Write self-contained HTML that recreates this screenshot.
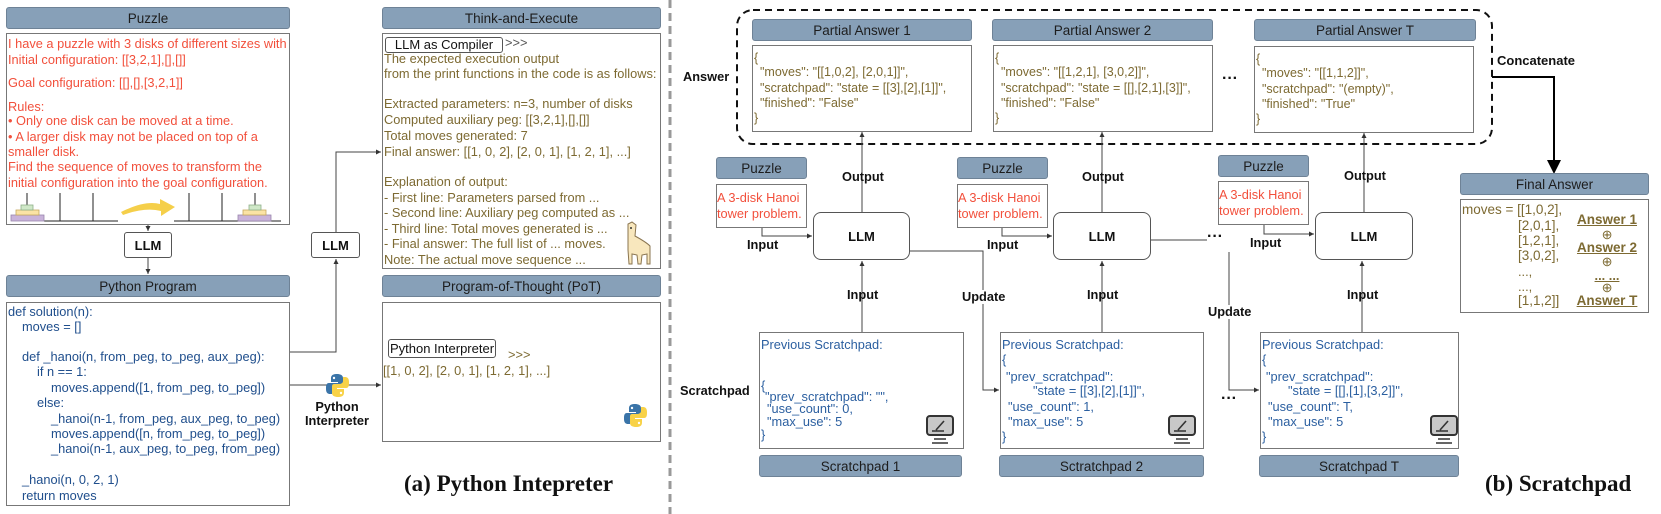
<!DOCTYPE html>
<html><head><meta charset="utf-8"><style>
body{margin:0;background:#fff;}
#c{position:relative;width:1661px;height:514px;overflow:hidden;background:#fff;font-family:"Liberation Sans",Arial,sans-serif;}
.h{position:absolute;background:#87a0b8;border:1px solid #6e8296;border-radius:3px;box-sizing:border-box;display:flex;align-items:center;justify-content:center;font-size:13.5px;color:#1d1d1d;}
.b{position:absolute;border:1.5px solid #777;box-sizing:border-box;background:transparent;}
.t{position:absolute;white-space:nowrap;font-size:12.8px;line-height:14px;}
.r{color:#f2503c;}
.o{color:#7d6a32;}
.cd{color:#1f4e8c;}
.bl{color:#2b5fa0;}
.bd{font-weight:bold;color:#111;font-size:12.8px;}
.llm{position:absolute;border:1.3px solid #555;box-sizing:border-box;background:#fff;display:flex;align-items:center;justify-content:center;font-weight:bold;font-size:13px;color:#111;}
.cap{position:absolute;font-family:"Liberation Serif",serif;font-weight:bold;font-size:23px;color:#111;white-space:nowrap;}
.u{text-decoration:underline;font-weight:bold;}
.j{font-size:12.5px;}
#ov{position:absolute;left:0;top:0;z-index:2;pointer-events:none;}
</style></head><body><div id="c">

<svg width="1661" height="514" style="position:absolute;left:0;top:0" xmlns="http://www.w3.org/2000/svg">
<defs><marker id="a" markerWidth="6" markerHeight="6" refX="5" refY="3" orient="auto"><path d="M0,0.5 L5,3 L0,5.5z" fill="#333"/></marker>
<marker id="a2" markerWidth="8" markerHeight="8" refX="6" refY="4" orient="auto"><path d="M0,0.5 L7,4 L0,7.5z" fill="#000"/></marker></defs>
<line x1="670" y1="0" x2="670" y2="514" stroke="#999" stroke-width="3" stroke-dasharray="8,5"/>
<line x1="148" y1="224" x2="148" y2="231" stroke="#444" marker-end="url(#a)"/>
<line x1="148" y1="258" x2="148" y2="274" stroke="#444" marker-end="url(#a)"/>
<polyline points="290,352 336,352 336,259" fill="none" stroke="#444" marker-end="url(#a)"/>
<polyline points="336,232 336,152 381,152" fill="none" stroke="#444" marker-end="url(#a)"/>
<line x1="290" y1="385" x2="381" y2="385" stroke="#444" marker-end="url(#a)"/>
<g stroke="#222" stroke-width="1">
<line x1="27" y1="193" x2="27" y2="205"/><line x1="60" y1="193" x2="60" y2="221"/><line x1="93" y1="193" x2="93" y2="221"/><line x1="44" y1="221" x2="118" y2="221"/>
<line x1="189" y1="193" x2="189" y2="221"/><line x1="222" y1="193" x2="222" y2="221"/><line x1="255" y1="193" x2="255" y2="205"/><line x1="174" y1="221" x2="281" y2="221"/>
</g>
<rect x="11" y="215" width="33" height="6" fill="#c9b3da" stroke="#9a86ad" stroke-width="0.8"/>
<rect x="16" y="210" width="23" height="5" fill="#fbe3a5" stroke="#c8a860" stroke-width="0.8"/>
<rect x="21" y="205" width="12" height="5" fill="#cfe8c8" stroke="#8fb08a" stroke-width="0.8"/>
<rect x="238" y="215" width="33" height="6" fill="#c9b3da" stroke="#9a86ad" stroke-width="0.8"/>
<rect x="243" y="210" width="23" height="5" fill="#fbe3a5" stroke="#c8a860" stroke-width="0.8"/>
<rect x="249" y="205" width="12" height="5" fill="#cfe8c8" stroke="#8fb08a" stroke-width="0.8"/>
<path d="M121,212 Q145,200 160,204 L160,199 L175,207 L161,216 L161,211 Q145,207 123,215z" fill="#f5cf4a"/>
<g id="py" transform="translate(326,374)">
<path d="M11,0 C5,0 5,3 5,5 L5,8 L12,8 L12,9 L3,9 C0,9 0,12 0,15 C0,19 2,20 4,20 L6,20 L6,16 C6,14 8,13 10,13 L15,13 C17,13 17,11 17,10 L17,4 C17,1 14,0 11,0z" fill="#3a74a8"/>
<path d="M12,23 C18,23 18,20 18,18 L18,15 L11,15 L11,14 L20,14 C23,14 23,11 23,8 C23,4 21,3 19,3 L17,3 L17,7 C17,9 15,10 13,10 L8,10 C6,10 6,12 6,13 L6,19 C6,22 9,23 12,23z" fill="#f8d247"/>
<circle cx="8" cy="4" r="1.2" fill="#fff"/><circle cx="15" cy="19" r="1.2" fill="#fff"/>
</g>
<use href="#py" transform="translate(298,30)"/>
<g transform="translate(622,222)" stroke="#8a7550" stroke-width="1" fill="#f8e7bd">
<path d="M6,12 L6,2 L10,0 L14,3 L13,14 Q24,20 28,24 L28,42 L25,42 L25,32 L20,33 L19,42 L16,42 L15,33 L10,32 L10,42 L7,42 L6,28z"/>
<circle cx="9" cy="6" r="1" fill="#333" stroke="none"/>
</g>
<rect x="737" y="10" width="755" height="134" rx="16" fill="none" stroke="#111" stroke-width="2" stroke-dasharray="7,5"/>
<line x1="862" y1="212" x2="862" y2="132" stroke="#444" marker-end="url(#a)"/>
<line x1="1102" y1="212" x2="1102" y2="132" stroke="#444" marker-end="url(#a)"/>
<line x1="1364" y1="212" x2="1364" y2="133" stroke="#444" marker-end="url(#a)"/>
<polyline points="762,227 762,236 812,236" fill="none" stroke="#444" marker-end="url(#a)"/>
<polyline points="1002,227 1002,236 1052,236" fill="none" stroke="#444" marker-end="url(#a)"/>
<polyline points="1264,225 1264,234 1314,234" fill="none" stroke="#444" marker-end="url(#a)"/>
<line x1="862" y1="332" x2="862" y2="261" stroke="#444" marker-end="url(#a)"/>
<line x1="1102" y1="332" x2="1102" y2="261" stroke="#444" marker-end="url(#a)"/>
<line x1="1362" y1="332" x2="1362" y2="261" stroke="#444" marker-end="url(#a)"/>
<polyline points="910,251 983,251 983,390 999,390" fill="none" stroke="#444" marker-end="url(#a)"/>
<line x1="1151" y1="240" x2="1213" y2="240" stroke="#444"/>
<polyline points="1229,252 1229,390 1259,390" fill="none" stroke="#444" marker-end="url(#a)"/>
<polyline points="1492,77 1554,77 1554,172" fill="none" stroke="#000" stroke-width="2" marker-end="url(#a2)"/>
<g id="mon" transform="translate(926,415)">
<rect x="1" y="1" width="26" height="19" rx="3" fill="#c8c8c8" stroke="#333" stroke-width="2"/>
<path d="M6,16 L18,16 M10,15 L18,6" stroke="#333" stroke-width="1.6" fill="none"/>
<line x1="8" y1="24" x2="20" y2="24" stroke="#333" stroke-width="1.5"/><line x1="6" y1="28" x2="22" y2="28" stroke="#333" stroke-width="1.5"/>
</g>
<use href="#mon" transform="translate(242,0)"/>
<use href="#mon" transform="translate(504,0)"/>
</svg>

<div class="h" style="left:6px;top:7px;width:284px;height:22px">Puzzle</div>
<div class="b" style="left:6px;top:33px;width:284px;height:192px"></div>
<div class="t r" style="left:8px;top:37px">I have a puzzle with 3 disks of different sizes with</div>
<div class="t r" style="left:8px;top:53px">Initial configuration: [[3,2,1],[],[]]</div>
<div class="t r" style="left:8px;top:76px">Goal configuration: [[],[],[3,2,1]]</div>
<div class="t r" style="left:8px;top:100px">Rules:</div>
<div class="t r" style="left:8px;top:114px">• Only one disk can be moved at a time.</div>
<div class="t r" style="left:8px;top:130px">• A larger disk may not be placed on top of a</div>
<div class="t r" style="left:8px;top:145px">smaller disk.</div>
<div class="t r" style="left:8px;top:160px">Find the sequence of moves to transform the</div>
<div class="t r" style="left:8px;top:176px">initial configuration into the goal configuration.</div>

<div class="llm" style="left:124px;top:232px;width:48px;height:26px;border-radius:3px">LLM</div>
<div class="llm" style="left:311px;top:232px;width:49px;height:26px;border-radius:3px">LLM</div>

<div class="h" style="left:6px;top:275px;width:284px;height:22px">Python Program</div>
<div class="b" style="left:6px;top:302px;width:284px;height:204px"></div>
<div class="t cd" style="left:8px;top:305px">def solution(n):</div>
<div class="t cd" style="left:22px;top:320px">moves = []</div>
<div class="t cd" style="left:22px;top:350px">def _hanoi(n, from_peg, to_peg, aux_peg):</div>
<div class="t cd" style="left:37px;top:365px">if n == 1:</div>
<div class="t cd" style="left:51px;top:381px">moves.append([1, from_peg, to_peg])</div>
<div class="t cd" style="left:37px;top:396px">else:</div>
<div class="t cd" style="left:51px;top:412px">_hanoi(n-1, from_peg, aux_peg, to_peg)</div>
<div class="t cd" style="left:51px;top:427px">moves.append([n, from_peg, to_peg])</div>
<div class="t cd" style="left:51px;top:442px">_hanoi(n-1, aux_peg, to_peg, from_peg)</div>
<div class="t cd" style="left:22px;top:473px">_hanoi(n, 0, 2, 1)</div>
<div class="t cd" style="left:22px;top:489px">return moves</div>

<div class="t bd" style="left:307px;top:400px;width:60px;text-align:center">Python</div>
<div class="t bd" style="left:302px;top:414px;width:70px;text-align:center">Interpreter</div>

<div class="h" style="left:382px;top:7px;width:279px;height:22px">Think-and-Execute</div>
<div class="b" style="left:382px;top:33px;width:279px;height:236px"></div>
<div style="position:absolute;left:385px;top:37px;width:118px;height:16px;border:1px solid #555;border-radius:3px;box-sizing:border-box;font-size:13px;line-height:14px;text-align:center;color:#111">LLM as Compiler</div>
<div class="t o" style="left:505px;top:36px;color:#555">&gt;&gt;&gt;</div>
<div class="t o" style="left:384px;top:52px">The expected execution output</div>
<div class="t o" style="left:384px;top:67px">from the print functions in the code is as follows:</div>
<div class="t o" style="left:384px;top:97px">Extracted parameters: n=3, number of disks</div>
<div class="t o" style="left:384px;top:113px">Computed auxiliary peg: [[3,2,1],[],[]]</div>
<div class="t o" style="left:384px;top:129px">Total moves generated: 7</div>
<div class="t o" style="left:384px;top:145px">Final answer: [[1, 0, 2], [2, 0, 1], [1, 2, 1], ...]</div>
<div class="t o" style="left:384px;top:175px">Explanation of output:</div>
<div class="t o" style="left:384px;top:191px">- First line: Parameters parsed from ...</div>
<div class="t o" style="left:384px;top:206px">- Second line: Auxiliary peg computed as ...</div>
<div class="t o" style="left:384px;top:222px">- Third line: Total moves generated is ...</div>
<div class="t o" style="left:384px;top:237px">- Final answer: The full list of ... moves.</div>
<div class="t o" style="left:384px;top:253px">Note: The actual move sequence ...</div>

<div class="h" style="left:382px;top:275px;width:279px;height:22px">Program-of-Thought (PoT)</div>
<div class="b" style="left:382px;top:302px;width:279px;height:140px"></div>
<div style="position:absolute;left:388px;top:339px;width:108px;height:19px;border:1px solid #555;border-radius:3px;box-sizing:border-box;font-size:13px;line-height:17px;text-align:center;color:#111">Python Interpreter</div>
<div class="t o" style="left:508px;top:348px">&gt;&gt;&gt;</div>
<div class="t o" style="left:383px;top:364px">[[1, 0, 2], [2, 0, 1], [1, 2, 1], ...]</div>

<div class="cap" style="left:404px;top:471px">(a) Python Intepreter</div>

<div class="t bd" style="left:683px;top:70px">Answer</div>

<div class="h" style="left:752px;top:19px;width:220px;height:22px">Partial Answer 1</div>
<div class="b" style="left:752px;top:45px;width:220px;height:87px"></div>
<div class="t o j" style="left:754px;top:51px">{</div>
<div class="t o j" style="left:760px;top:65px">"moves": "[[1,0,2], [2,0,1]]",</div>
<div class="t o j" style="left:760px;top:81px">"scratchpad": "state = [[3],[2],[1]]",</div>
<div class="t o j" style="left:760px;top:96px">"finished": "False"</div>
<div class="t o j" style="left:754px;top:111px">}</div>

<div class="h" style="left:992px;top:19px;width:221px;height:22px">Partial Answer 2</div>
<div class="b" style="left:993px;top:45px;width:220px;height:87px"></div>
<div class="t o j" style="left:995px;top:51px">{</div>
<div class="t o j" style="left:1001px;top:65px">"moves": "[[1,2,1], [3,0,2]]",</div>
<div class="t o j" style="left:1001px;top:81px">"scratchpad": "state = [[],[2,1],[3]]",</div>
<div class="t o j" style="left:1001px;top:96px">"finished": "False"</div>
<div class="t o j" style="left:995px;top:111px">}</div>

<div class="t bd" style="left:1222px;top:72px;font-size:16px">···</div>

<div class="h" style="left:1254px;top:19px;width:222px;height:22px">Partial Answer T</div>
<div class="b" style="left:1254px;top:46px;width:220px;height:87px"></div>
<div class="t o j" style="left:1256px;top:52px">{</div>
<div class="t o j" style="left:1262px;top:66px">"moves": "[[1,1,2]]",</div>
<div class="t o j" style="left:1262px;top:82px">"scratchpad": "(empty)",</div>
<div class="t o j" style="left:1262px;top:97px">"finished": "True"</div>
<div class="t o j" style="left:1256px;top:112px">}</div>

<div class="t bd" style="left:1497px;top:54px;font-size:13px">Concatenate</div>

<div class="h" style="left:716px;top:157px;width:91px;height:22px">Puzzle</div>
<div class="b" style="left:716px;top:184px;width:91px;height:44px"></div>
<div class="t r" style="left:717px;top:191px">A 3-disk Hanoi</div>
<div class="t r" style="left:717px;top:207px">tower problem.</div>
<div class="h" style="left:957px;top:157px;width:91px;height:22px">Puzzle</div>
<div class="b" style="left:957px;top:184px;width:91px;height:44px"></div>
<div class="t r" style="left:958px;top:191px">A 3-disk Hanoi</div>
<div class="t r" style="left:958px;top:207px">tower problem.</div>
<div class="h" style="left:1218px;top:155px;width:91px;height:22px">Puzzle</div>
<div class="b" style="left:1218px;top:181px;width:91px;height:44px"></div>
<div class="t r" style="left:1219px;top:188px">A 3-disk Hanoi</div>
<div class="t r" style="left:1219px;top:204px">tower problem.</div>

<div class="llm" style="left:813px;top:212px;width:97px;height:48px;border-radius:8px">LLM</div>
<div class="llm" style="left:1053px;top:212px;width:98px;height:48px;border-radius:8px">LLM</div>
<div class="llm" style="left:1315px;top:212px;width:98px;height:48px;border-radius:8px">LLM</div>

<div class="t bd" style="left:842px;top:170px">Output</div>
<div class="t bd" style="left:1082px;top:170px">Output</div>
<div class="t bd" style="left:1344px;top:169px">Output</div>
<div class="t bd" style="left:747px;top:238px">Input</div>
<div class="t bd" style="left:987px;top:238px">Input</div>
<div class="t bd" style="left:1250px;top:236px">Input</div>
<div class="t bd" style="left:1207px;top:230px;font-size:16px;background:#fff">···</div>
<div class="t bd" style="left:847px;top:288px">Input</div>
<div class="t bd" style="left:1087px;top:288px">Input</div>
<div class="t bd" style="left:1347px;top:288px">Input</div>
<div class="t bd" style="left:962px;top:290px;background:#fff">Update</div>
<div class="t bd" style="left:1208px;top:305px;background:#fff">Update</div>
<div class="t bd" style="left:1221px;top:392px;font-size:16px">···</div>
<div class="t bd" style="left:680px;top:384px">Scratchpad</div>

<div class="b" style="left:759px;top:332px;width:205px;height:117px"></div>
<div class="t bl" style="left:761px;top:338px">Previous Scratchpad:</div>
<div class="t bl" style="left:761px;top:379px">{</div>
<div class="t bl" style="left:765px;top:390px">"prev_scratchpad": "",</div>
<div class="t bl" style="left:767px;top:402px">"use_count": 0,</div>
<div class="t bl" style="left:767px;top:415px">"max_use": 5</div>
<div class="t bl" style="left:761px;top:428px">}</div>

<div class="b" style="left:1000px;top:332px;width:204px;height:117px"></div>
<div class="t bl" style="left:1002px;top:338px">Previous Scratchpad:</div>
<div class="t bl" style="left:1002px;top:353px">{</div>
<div class="t bl" style="left:1006px;top:370px">"prev_scratchpad":</div>
<div class="t bl" style="left:1033px;top:384px">"state = [[3],[2],[1]]",</div>
<div class="t bl" style="left:1008px;top:400px">"use_count": 1,</div>
<div class="t bl" style="left:1008px;top:415px">"max_use": 5</div>
<div class="t bl" style="left:1002px;top:430px">}</div>

<div class="b" style="left:1260px;top:332px;width:199px;height:117px"></div>
<div class="t bl" style="left:1262px;top:338px">Previous Scratchpad:</div>
<div class="t bl" style="left:1262px;top:353px">{</div>
<div class="t bl" style="left:1266px;top:370px">"prev_scratchpad":</div>
<div class="t bl" style="left:1288px;top:384px">"state = [[],[1],[3,2]]",</div>
<div class="t bl" style="left:1268px;top:400px">"use_count": T,</div>
<div class="t bl" style="left:1268px;top:415px">"max_use": 5</div>
<div class="t bl" style="left:1262px;top:430px">}</div>

<div class="h" style="left:759px;top:455px;width:203px;height:22px">Scratchpad 1</div>
<div class="h" style="left:999px;top:455px;width:205px;height:22px">Sctratchpad 2</div>
<div class="h" style="left:1259px;top:455px;width:200px;height:22px">Scratchpad T</div>

<div class="h" style="left:1460px;top:173px;width:189px;height:22px">Final Answer</div>
<div class="b" style="left:1460px;top:199px;width:189px;height:114px"></div>
<div class="t o" style="left:1462px;top:203px;font-size:13.5px">moves = [[1,0,2],</div>
<div class="t o" style="left:1518px;top:219px;font-size:13.5px">[2,0,1],</div>
<div class="t o" style="left:1518px;top:234px;font-size:13.5px">[1,2,1],</div>
<div class="t o" style="left:1518px;top:249px;font-size:13.5px">[3,0,2],</div>
<div class="t o" style="left:1518px;top:265px">...,</div>
<div class="t o" style="left:1518px;top:280px">...,</div>
<div class="t o" style="left:1518px;top:294px;font-size:13.5px">[1,1,2]]</div>
<div class="t o u" style="left:1575px;top:213px;width:64px;text-align:center;font-size:13.5px">Answer 1</div>
<div class="t o" style="left:1575px;top:228px;width:64px;text-align:center">⊕</div>
<div class="t o u" style="left:1575px;top:241px;width:64px;text-align:center;font-size:13.5px">Answer 2</div>
<div class="t o" style="left:1575px;top:255px;width:64px;text-align:center">⊕</div>
<div class="t o u" style="left:1575px;top:269px;width:64px;text-align:center">... ...</div>
<div class="t o" style="left:1575px;top:281px;width:64px;text-align:center">⊕</div>
<div class="t o u" style="left:1575px;top:294px;width:64px;text-align:center;font-size:13.5px">Answer T</div>

<div class="cap" style="left:1485px;top:471px">(b) Scratchpad</div>
</div></body></html>
